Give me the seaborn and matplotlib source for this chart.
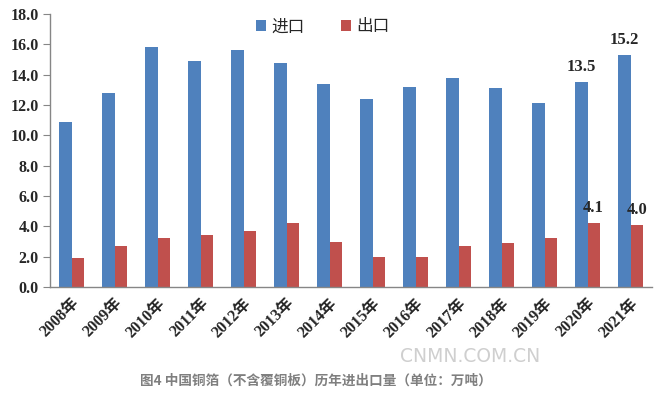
import matplotlib
matplotlib.use('Agg')
import matplotlib.pyplot as plt
import seaborn as sns
import numpy as np
import pandas as pd

# 中国铜箔（不含覆铜板）历年进出口量，单位：万吨
years = ['2008年', '2009年', '2010年', '2011年', '2012年', '2013年', '2014年',
         '2015年', '2016年', '2017年', '2018年', '2019年', '2020年', '2021年']
imports = [10.9, 12.8, 15.8, 14.9, 15.6, 14.8, 13.4, 12.4, 13.2, 13.8, 13.1, 12.1, 13.5, 15.3]
exports = [1.9, 2.7, 3.2, 3.4, 3.7, 4.2, 3.0, 2.0, 2.0, 2.7, 2.9, 3.2, 4.2, 4.1]
series_names = ['进口', '出口']
labels = {('进口', '2020年'): '13.5', ('进口', '2021年'): '15.2',
          ('出口', '2020年'): '4.1', ('出口', '2021年'): '4.0'}

df = pd.DataFrame({
    'year': years * 2,
    'value': imports + exports,
    'kind': [series_names[0]] * len(years) + [series_names[1]] * len(years),
})

sns.set_style('white')
plt.rcParams['font.family'] = ['Liberation Serif', 'Noto Sans CJK SC', 'DejaVu Sans']

fig = plt.figure(figsize=(6.6, 3.95), dpi=100)
ax = fig.add_axes([50 / 660, 1 - 287 / 395, 602 / 660, 273 / 395])

sns.barplot(data=df, x='year', y='value', hue='kind', hue_order=series_names,
            palette=['#4F81BD', '#C0504D'], width=0.57, saturation=1,
            linewidth=0, ax=ax)

# value labels on the last two years
for cont, name in zip(ax.containers, series_names):
    for bar, yr in zip(cont, years):
        txt = labels.get((name, yr))
        if txt:
            ax.text(bar.get_x() + bar.get_width() / 2, bar.get_height() + 0.45, txt,
                    ha='center', va='bottom', fontsize=12, fontweight='bold',
                    family='Liberation Serif')

ax.set_ylim(0, 18)
ax.set_xlim(-0.5, len(years) - 0.5)
ax.set_yticks(np.arange(0, 18.1, 2))
ax.set_yticklabels([f'{v:.1f}' for v in np.arange(0, 18.1, 2)],
                   fontsize=11.5, fontweight='bold')
ax.set_xticks(range(len(years)))
ax.set_xticklabels(years, rotation=45, ha='right', rotation_mode='anchor',
                   fontsize=11.5, fontweight='bold')
ax.set_xticks(np.arange(-0.5, len(years), 1), minor=True)
ax.tick_params(axis='x', which='major', length=0, pad=6)
ax.tick_params(axis='x', which='minor', length=5, color='#868686', direction='out')
ax.tick_params(axis='y', length=5, color='#868686', direction='out', pad=3, left=True)
ax.set_xlabel('')
ax.set_ylabel('')

for s in ['top', 'right']:
    ax.spines[s].set_visible(False)
for s in ['left', 'bottom']:
    ax.spines[s].set_color('#868686')
    ax.spines[s].set_linewidth(1)

leg = ax.legend(loc='center left', bbox_to_anchor=(0.318, 1 - 13 / 273), ncol=2,
                frameon=False, handlelength=0.6, handleheight=0.6, handletextpad=0.3,
                columnspacing=2.2, prop={'family': 'Noto Sans CJK SC', 'size': 12})

fig.text(400 / 660, 1 - 356 / 395, 'CNMN.COM.CN', color='#cfcfcf', fontsize=13.5,
         family='DejaVu Sans', ha='left', va='center')
fig.text(140 / 660, 1 - 381 / 395, '图4 中国铜箔（不含覆铜板）历年进出口量（单位：万吨）',
         color='#7f7f7f', fontsize=9.8, fontweight='bold',
         family=['Noto Sans CJK SC', 'DejaVu Sans'], ha='left', va='center')

fig.savefig('out.png', dpi=100)
